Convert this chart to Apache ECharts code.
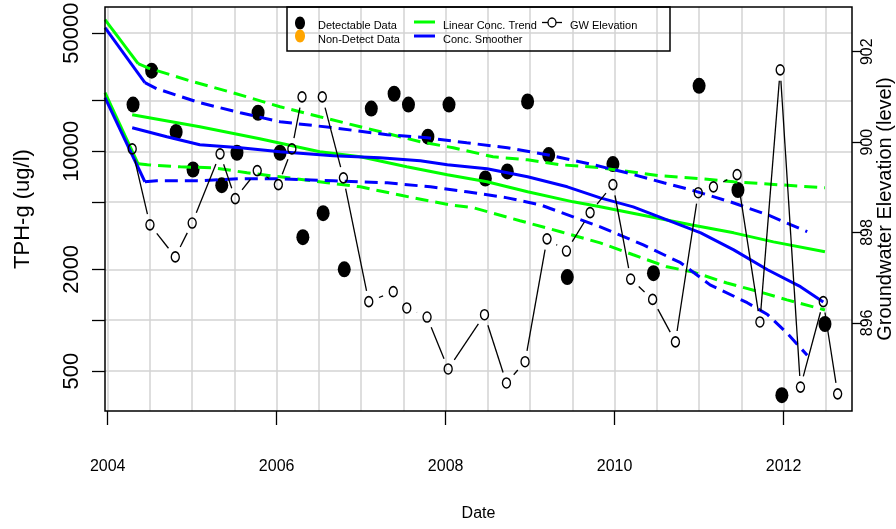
<!DOCTYPE html>
<html>
<head>
<meta charset="utf-8">
<script src="https://cdn.jsdelivr.net/npm/echarts@6/dist/echarts.min.js"></script>
<style>
html,body{margin:0;padding:0;background:#fff;}
#chart{width:896px;height:529px;}
</style>
</head>
<body>
<div id="chart"></div>
<script>
// ---------------- data ----------------
const xTickYears = [2004, 2006, 2008, 2010, 2012];
const xGridYears = [2004, 2004.5, 2005, 2005.5, 2006, 2006.5, 2007, 2007.5, 2008, 2008.5, 2009, 2009.5, 2010, 2010.5, 2011, 2011.5, 2012, 2012.5];
const concTicks = [500, 1000, 2000, 5000, 10000, 20000, 50000];
const concLabels = [500, 2000, 10000, 50000];
const elevTicks = [896, 898, 900, 902];

const detDates = [2004.30, 2004.52, 2004.81, 2005.01, 2005.35, 2005.53, 2005.78, 2006.04, 2006.31, 2006.55, 2006.80, 2007.12, 2007.39, 2007.56, 2007.79, 2008.04, 2008.47, 2008.73, 2008.97, 2009.22, 2009.44, 2009.98, 2010.46, 2011.00, 2011.46, 2011.98, 2012.49];
const detConc = [18900, 30000, 13000, 7800, 6300, 9800, 16900, 9800, 3100, 4300, 2000, 17900, 21900, 18900, 12200, 18900, 6900, 7600, 19700, 9500, 1800, 8400, 1900, 24400, 5900, 360, 950];

const gwDates = [2004.29, 2004.50, 2004.80, 2005.00, 2005.33, 2005.51, 2005.77, 2006.02, 2006.18, 2006.30, 2006.54, 2006.79, 2007.09, 2007.38, 2007.54, 2007.78, 2008.03, 2008.46, 2008.72, 2008.94, 2009.20, 2009.43, 2009.71, 2009.98, 2010.19, 2010.45, 2010.72, 2010.99, 2011.17, 2011.45, 2011.72, 2011.96, 2012.20, 2012.47, 2012.64];
const gwElev = [899.85, 898.17, 897.46, 898.21, 899.74, 898.75, 899.37, 899.06, 899.85, 901.00, 901.00, 899.21, 896.47, 896.69, 896.33, 896.13, 894.98, 896.18, 894.67, 895.14, 897.86, 897.59, 898.44, 899.06, 896.97, 896.52, 895.58, 898.88, 899.01, 899.28, 896.02, 901.60, 894.58, 896.47, 894.43];

const greenFit = [[2004.29,16450],[2005.09,13970],[2005.80,11860],[2006.51,9930],[2006.99,9280],[2007.54,8090],[2008.02,7260],[2008.49,6600],[2008.97,5760],[2009.51,5020],[2009.83,4690],[2010.90,3670],[2011.41,3290],[2011.88,2910],[2012.49,2540]];
const greenUpperLead = [[2003.968,60100],[2004.36,33000]];
const greenUpper = [[2004.36,33000],[2004.47,31230],[2005.01,25800],[2005.48,22220],[2006.04,18350],[2006.51,16010],[2006.99,13970],[2007.70,11380],[2008.09,10490],[2008.56,9280],[2008.97,8900],[2009.36,8320],[2009.83,7990],[2010.54,7160],[2011.02,6880],[2011.41,6600],[2011.96,6330],[2012.49,6080]];
const greenLowerLead = [[2003.968,22220],[2004.36,8430]];
const greenLower = [[2004.36,8430],[2004.47,8320],[2004.86,8090],[2005.25,7990],[2005.65,7460],[2006.04,7060],[2006.60,6510],[2006.99,6160],[2007.50,5450],[2008.05,4820],[2008.33,4630],[2008.88,3880],[2009.36,3340],[2009.83,2870],[2010.22,2440],[2010.62,2070],[2010.93,1930],[2011.33,1660],[2011.72,1470],[2012.04,1320],[2012.49,1150]];

const blueFit = [[2004.29,13780],[2004.70,12190],[2005.09,10930],[2005.57,10490],[2006.04,9930],[2006.67,9410],[2007.22,9150],[2007.70,8790],[2008.02,8320],[2008.49,7880],[2008.97,7060],[2009.44,6160],[2009.83,5300],[2010.22,4690],[2010.62,3930],[2011.02,3290],[2011.41,2610],[2011.81,1990],[2012.20,1580],[2012.47,1280]];
const blueUpperLead = [[2003.968,53900],[2004.44,25460]];
const blueUpper = [[2004.44,25460],[2004.58,23460],[2005.09,19380],[2005.57,16910],[2006.04,14950],[2006.67,13780],[2007.31,12520],[2007.78,12020],[2008.25,11230],[2008.73,10490],[2009.20,9540],[2009.75,8320],[2010.19,7360],[2010.58,6510],[2010.90,5920],[2011.37,5020],[2011.81,4210],[2012.28,3340]];
const blueLowerLead = [[2003.968,20750],[2004.44,6600]];
const blueLower = [[2004.44,6600],[2004.58,6690],[2005.09,6690],[2005.57,6880],[2006.04,6880],[2006.67,6690],[2006.99,6600],[2007.31,6510],[2007.82,6160],[2008.25,5760],[2008.73,5300],[2009.12,4820],[2009.83,3570],[2010.34,2790],[2010.78,2190],[2011.13,1620],[2011.57,1270],[2011.81,1080],[2012.04,840],[2012.28,620]];

// ---------------- chart ----------------
const FONT = 'Liberation Sans, Arial, Helvetica, sans-serif';
const GREEN = '#00ff00', BLUE = '#0000ff';
const chart = echarts.init(document.getElementById('chart'), null, {renderer: 'canvas'});

function lineSeries(data, color, dashed, z) {
  return {
    type: 'line', xAxisIndex: 0, yAxisIndex: 0, data: data,
    showSymbol: false, symbol: 'none', silent: true, z: z || 3,
    lineStyle: {color: color, width: 3, type: dashed ? [13, 7] : 'solid', cap: 'butt'}
  };
}

const gwSegs = gwDates.slice(0, -1).map((d, i) => [d, gwElev[i], gwDates[i + 1], gwElev[i + 1]]);

const option = {
  animation: false,
  backgroundColor: '#fff',
  grid: {left: 105, top: 7, width: 747, height: 404, show: true, borderColor: '#000', borderWidth: 1.5,
    backgroundColor: 'transparent', z: 10, containLabel: false, outerBoundsMode: 'none'},
  xAxis: [
    {
      type: 'value', min: 2003.968, max: 2012.81, position: 'bottom',
      axisLine: {show: false},
      axisTick: {show: true, customValues: xTickYears, length: 14, lineStyle: {color: '#000', width: 1.3}},
      axisLabel: {customValues: xTickYears, fontSize: 16, fontFamily: FONT, color: '#000', margin: 48, formatter: v => String(Math.round(v))},
      splitLine: {show: false},
      name: 'Date', nameLocation: 'middle', nameGap: 95,
      nameTextStyle: {fontSize: 16, fontFamily: FONT, color: '#000'}
    },
    {
      type: 'value', min: 2003.968, max: 2012.81, position: 'bottom',
      axisLine: {show: false},
      axisTick: {show: false, customValues: xGridYears},
      axisLabel: {show: false},
      splitLine: {show: true, lineStyle: {color: '#d3d3d3', width: 1.5}}
    }
  ],
  yAxis: [
    {
      type: 'log', logBase: 10, min: 290.2, max: 71450, position: 'left',
      axisLine: {show: false},
      axisTick: {show: true, customValues: concTicks, length: 13, lineStyle: {color: '#000', width: 1.3}},
      axisLabel: {customValues: concLabels, rotate: 90, fontSize: 22, fontFamily: FONT, color: '#000', margin: 22,
        formatter: v => String(Math.round(v))},
      splitLine: {show: true, lineStyle: {color: '#d3d3d3', width: 1.5}},
      minorTick: {show: false}, minorSplitLine: {show: false},
      name: 'TPH-g (ug/l)', nameLocation: 'middle', nameGap: 71, nameRotate: 90,
      nameTextStyle: {fontSize: 22, fontFamily: FONT, color: '#000'}
    },
    {
      type: 'value', min: 894.05, max: 902.99, position: 'right',
      axisLine: {show: false},
      axisTick: {show: true, customValues: elevTicks, length: 10, lineStyle: {color: '#000', width: 1.3}},
      axisLabel: {customValues: elevTicks, rotate: 90, fontSize: 16, fontFamily: FONT, color: '#000', margin: 8,
        formatter: v => String(Math.round(v))},
      splitLine: {show: false},
      name: 'Groundwater Elevation (level)', nameLocation: 'middle', nameGap: 23, nameRotate: 90,
      nameMoveOverlap: false,
      nameTextStyle: {fontSize: 20, fontFamily: FONT, color: '#000'}
    }
  ],
  series: [
    {
      type: 'scatter', name: 'Detectable Data', xAxisIndex: 0, yAxisIndex: 0, z: 2,
      data: detDates.map((d, i) => [d, detConc[i]]),
      symbol: 'circle', symbolSize: [13, 16],
      itemStyle: {color: '#000', opacity: 1}
    },
    lineSeries(greenFit, GREEN, false),
    lineSeries(greenUpperLead, GREEN, false),
    lineSeries(greenUpper, GREEN, true),
    lineSeries(greenLowerLead, GREEN, false),
    lineSeries(greenLower, GREEN, true),
    lineSeries(blueFit, BLUE, false, 4),
    lineSeries(blueUpperLead, BLUE, false, 4),
    lineSeries(blueUpper, BLUE, true, 4),
    lineSeries(blueLowerLead, BLUE, false, 4),
    lineSeries(blueLower, BLUE, true, 4),
    {
      type: 'custom', name: 'GW line', xAxisIndex: 0, yAxisIndex: 1, z: 5, silent: true,
      data: gwSegs,
      encode: {x: [0, 2], y: [1, 3]},
      renderItem: function (params, api) {
        const p1 = api.coord([api.value(0), api.value(1)]);
        const p2 = api.coord([api.value(2), api.value(3)]);
        const dx = p2[0] - p1[0], dy = p2[1] - p1[1];
        const L = Math.sqrt(dx * dx + dy * dy);
        const g = 11;
        if (L <= 2 * g) return {type: 'group', children: []};
        const ux = dx / L, uy = dy / L;
        return {
          type: 'line',
          shape: {x1: p1[0] + ux * g, y1: p1[1] + uy * g, x2: p2[0] - ux * g, y2: p2[1] - uy * g},
          style: {stroke: '#000', lineWidth: 1.3}
        };
      }
    },
    {
      type: 'scatter', name: 'GW Elevation', xAxisIndex: 0, yAxisIndex: 1, z: 6,
      data: gwDates.map((d, i) => [d, gwElev[i]]),
      symbol: 'circle', symbolSize: [8, 10],
      itemStyle: {color: 'rgba(0,0,0,0)', borderColor: '#000', borderWidth: 1.5, opacity: 1}
    }
  ],
  graphic: [
    {type: 'rect', shape: {x: 287, y: 7, width: 383, height: 44}, style: {fill: 'none', stroke: '#000', lineWidth: 1.5}, z: 20},
    {type: 'ellipse', shape: {cx: 300, cy: 23, rx: 5, ry: 6.5}, style: {fill: '#000'}, z: 20},
    {type: 'ellipse', shape: {cx: 300, cy: 36, rx: 5, ry: 6.5}, style: {fill: '#ffa500'}, z: 20},
    {type: 'text', x: 318, y: 25.5, style: {text: 'Detectable Data', font: '11px ' + FONT, fill: '#000', verticalAlign: 'middle'}, z: 20},
    {type: 'text', x: 318, y: 39.5, style: {text: 'Non-Detect Data', font: '11px ' + FONT, fill: '#000', verticalAlign: 'middle'}, z: 20},
    {type: 'line', shape: {x1: 414, y1: 22, x2: 435, y2: 22}, style: {stroke: GREEN, lineWidth: 3}, z: 20},
    {type: 'line', shape: {x1: 414, y1: 36, x2: 435, y2: 36}, style: {stroke: BLUE, lineWidth: 3}, z: 20},
    {type: 'text', x: 443, y: 25.5, style: {text: 'Linear Conc. Trend', font: '11px ' + FONT, fill: '#000', verticalAlign: 'middle'}, z: 20},
    {type: 'text', x: 443, y: 39.5, style: {text: 'Conc. Smoother', font: '11px ' + FONT, fill: '#000', verticalAlign: 'middle'}, z: 20},
    {type: 'line', shape: {x1: 542, y1: 22.5, x2: 562, y2: 22.5}, style: {stroke: '#000', lineWidth: 1.3}, z: 20},
    {type: 'ellipse', shape: {cx: 552, cy: 22.5, rx: 4, ry: 4.5}, style: {fill: '#fff', stroke: '#000', lineWidth: 1.3}, z: 21},
    {type: 'text', x: 570, y: 25.5, style: {text: 'GW Elevation', font: '11px ' + FONT, fill: '#000', verticalAlign: 'middle'}, z: 20}
  ]
};
chart.setOption(option);
</script>
</body>
</html>
